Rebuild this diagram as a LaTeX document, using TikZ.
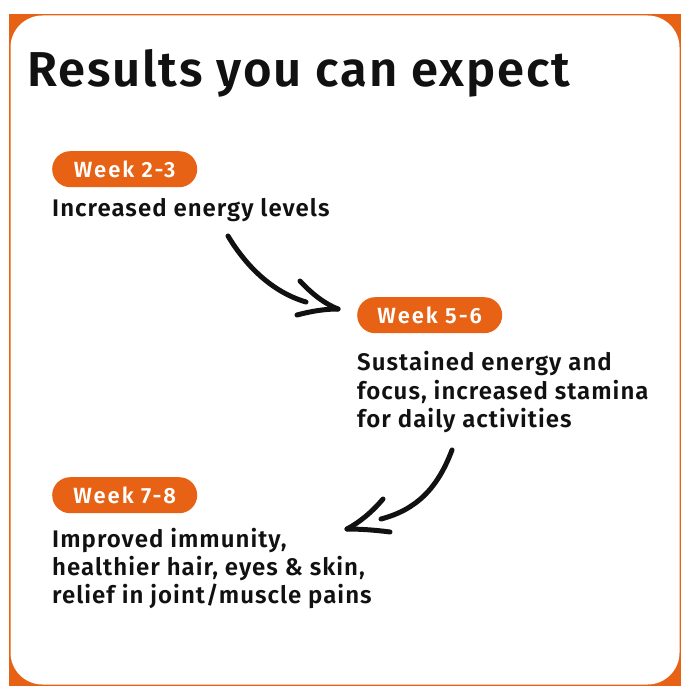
\documentclass[tikz,border=0pt]{standalone}
\usepackage{fontspec}
\setmainfont{Fira Sans}[BoldFont={Fira Sans SemiBold}]
\definecolor{brandorange}{RGB}{231,98,21}
\definecolor{ink}{RGB}{17,17,17}
\tikzset{
  pill/.style={fill=brandorange, rounded corners=18pt, minimum width=145pt, minimum height=36pt, inner sep=0pt, text=white, font=\fontsize{22}{26}\selectfont\bfseries\addfontfeature{LetterSpace=9}},
  bodytext/.style={anchor=base west, inner sep=0pt, text=ink, font=\fontsize{24}{28.5}\selectfont\bfseries\addfontfeature{LetterSpace=4.3}},
  sketch/.style={line width=5pt, line cap=round, line join=round, draw=ink}
}
\begin{document}
\begin{tikzpicture}[x=1pt,y=-1pt]
\useasboundingbox (0,0) rectangle (690,700);
\fill[white] (0,0) rectangle (690,700);
% frame
\fill[brandorange] (9,14) rectangle (681,686);
\fill[white, rounded corners=32pt] (10.5,15.5) rectangle (679.5,684.5);
% title
\node[anchor=base west, inner sep=0pt, text=ink, font=\fontsize{49}{55}\selectfont\bfseries\addfontfeature{LetterSpace=3.8}] (title) at (27,87) {Results you can expect};
% week 2-3
\node[pill, anchor=north west] (p1) at (52,151) {Week 2-3};
\node[bodytext] (t1) at (52,216.5) {Increased energy levels};
% week 5-6
\node[pill, anchor=north west] (p2) at (357,297) {Week 5-6};
\node[bodytext] (t2a) at (357,370.5) {Sustained energy and};
\node[bodytext] (t2b) at (357,399) {focus, increased stamina};
\node[bodytext] (t2c) at (357,427.5) {for daily activities};
% week 7-8
\node[pill, anchor=north west] (p3) at (52,477) {Week 7-8};
\node[bodytext] (t3a) at (52,547) {Improved immunity,};
\node[bodytext] (t3b) at (52,575) {healthier hair, eyes \& skin,};
\node[bodytext] (t3c) at (52,603) {relief in joint/muscle pains};
% arrow 1
\coordinate (a1s) at (228,236);
\coordinate (a1e) at (306,302);
\coordinate (a1t) at (338,309);
\draw[sketch] (a1s) .. controls (246,266) and (272,292) .. (a1e);
\draw[sketch] (300,281) .. controls (312,294) and (325,304) .. (a1t);
\draw[sketch] (297,315) .. controls (312,311) and (325,309) .. (a1t);
% arrow 2
\coordinate (a2s) at (452,450);
\coordinate (a2e) at (381,519);
\coordinate (a2t) at (347,529);
\draw[sketch] (a2s) .. controls (437,490) and (415,510) .. (a2e);
\draw[sketch] (383,499) .. controls (372,512) and (360,522) .. (a2t);
\draw[sketch] (390,532) .. controls (375,530) and (360,529) .. (a2t);
\end{tikzpicture}
\end{document}
